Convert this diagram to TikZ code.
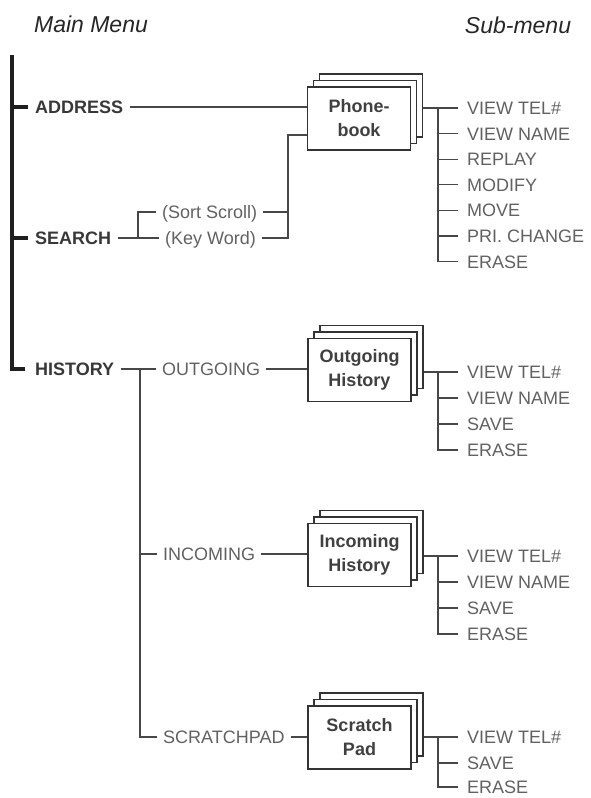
\documentclass[tikz,border=0pt]{standalone}
\usepackage{fontspec}
\setmainfont{Liberation Sans}
\usetikzlibrary{shadows}
\begin{document}
\begin{tikzpicture}[x=1pt,y=-1pt,
  conn/.style={draw=black!72, line width=1.3pt},
  bar/.style={draw=black!88, line width=3.2pt},
  mainlab/.style={font=\fontsize{18}{20}\selectfont\bfseries, text=black!78, inner xsep=7pt, inner ysep=0pt, text height=12.9pt, text depth=0pt, anchor=west},
  midlab/.style={font=\fontsize{18}{20}\selectfont, text=black!62, inner xsep=6pt, inner ysep=0pt, text height=12.9pt, text depth=0pt, anchor=west},
  sublab/.style={midlab, inner xsep=9pt},
  card/.style={draw=black!80, line width=1.3pt, fill=white, minimum width=103pt, minimum height=63pt, inner sep=0pt, align=center,
    font=\fontsize{18}{24}\selectfont\bfseries, text=black!75,
    copy shadow={shadow xshift=12pt, shadow yshift=13pt, draw=black!80, line width=1.1pt},
    copy shadow={shadow xshift=6pt, shadow yshift=6.5pt, draw=black!80, line width=1.1pt}},
  head/.style={font=\fontsize{23}{25}\selectfont\itshape, text=black!85, inner sep=0pt, anchor=base}
]
\path[use as bounding box] (0,0) rectangle (590,798);

% headings
\node[head] (mm) at (91,32) {Main Menu};
\node[head] (sm) at (518,33) {Sub-menu};

% main menu
\coordinate (bartop) at (12,55);
\coordinate (barbot) at (12,369);
\node[mainlab] (addr) at (28,107) {ADDRESS};
\node[mainlab] (search) at (28,238) {SEARCH};
\node[mainlab] (hist) at (28,369) {HISTORY};
\draw[bar] (bartop) -- (barbot) -- ([xshift=-3pt]hist.west);
\draw[bar] (bartop |- addr.west) -- (addr.west);
\draw[bar] (bartop |- search.west) -- (search.west);

% phonebook
\node[card] (pb) at (359,118.5) {Phone-\\book};
\draw[conn] (addr.east) -- (addr.east -| pb.west);

\coordinate (sj) at (138,238);
\node[midlab] (sort) at (156,212) {(Sort Scroll)};
\node[midlab] (key) at (159,238) {(Key Word)};
\draw[conn] (search.east) -- (key.west);
\draw[conn] (sj) |- (sort.west);
\coordinate (kj) at (288,238);
\draw[conn] (sort.east) -- (sort.east -| kj);
\draw[conn] (key.east) -- (kj) |- ([yshift=-16.5pt]pb.west);

\node[sublab] (p1) at (458,108) {VIEW TEL\#};
\node[sublab] (p2) at (458,133.6) {VIEW NAME};
\node[sublab] (p3) at (458,159.2) {REPLAY};
\node[sublab] (p4) at (458,184.8) {MODIFY};
\node[sublab] (p5) at (458,210.4) {MOVE};
\node[sublab] (p6) at (458,236) {PRI. CHANGE};
\node[sublab] (p7) at (458,261.6) {ERASE};
\coordinate (pj) at (438,108);
\draw[conn, shorten <=12pt] (pb.east |- p1.west) -- (p1.west);
\draw[conn] (pj) |- (p7.west);
\foreach \n in {p2,p3,p4,p5,p6} \draw[conn] (pj |- \n.west) -- (\n.west);

% history
\node[midlab] (out) at (156,369) {OUTGOING};
\node[midlab] (inc) at (157,554) {INCOMING};
\node[midlab] (scr) at (157,737) {SCRATCHPAD};
\coordinate (hj) at (140,369);
\draw[conn] (hist.east) -- (out.west);
\draw[conn] (hj) |- (scr.west);
\draw[conn] (hj |- inc.west) -- (inc.west);

\node[card] (og) at (359.5,370) {Outgoing\\History};
\node[card] (ib) at (359.5,555) {Incoming\\History};
\node[card] (sb) at (359.5,737.5) {Scratch\\Pad};
\draw[conn] (out.east) -- (out.east -| og.west);
\draw[conn] (inc.east) -- (inc.east -| ib.west);
\draw[conn] (scr.east) -- (scr.east -| sb.west);

% outgoing submenu
\node[sublab] (o1) at (458,372) {VIEW TEL\#};
\node[sublab] (o2) at (458,398) {VIEW NAME};
\node[sublab] (o3) at (458,424) {SAVE};
\node[sublab] (o4) at (458,450) {ERASE};
\coordinate (oj) at (438,372);
\draw[conn, shorten <=12pt] (og.east |- o1.west) -- (o1.west);
\draw[conn] (oj) |- (o4.west);
\foreach \n in {o2,o3} \draw[conn] (oj |- \n.west) -- (\n.west);

% incoming submenu
\node[sublab] (i1) at (458,556) {VIEW TEL\#};
\node[sublab] (i2) at (458,582) {VIEW NAME};
\node[sublab] (i3) at (458,608) {SAVE};
\node[sublab] (i4) at (458,634) {ERASE};
\coordinate (ij) at (438,556);
\draw[conn, shorten <=12pt] (ib.east |- i1.west) -- (i1.west);
\draw[conn] (ij) |- (i4.west);
\foreach \n in {i2,i3} \draw[conn] (ij |- \n.west) -- (\n.west);

% scratchpad submenu
\node[sublab] (s1) at (458,737) {VIEW TEL\#};
\node[sublab] (s2) at (458,763) {SAVE};
\node[sublab] (s3) at (458,787) {ERASE};
\coordinate (sbj) at (438,737);
\draw[conn, shorten <=12pt] (sb.east |- s1.west) -- (s1.west);
\draw[conn] (sbj) |- (s3.west);
\draw[conn] (sbj |- s2.west) -- (s2.west);
\end{tikzpicture}
\end{document}
